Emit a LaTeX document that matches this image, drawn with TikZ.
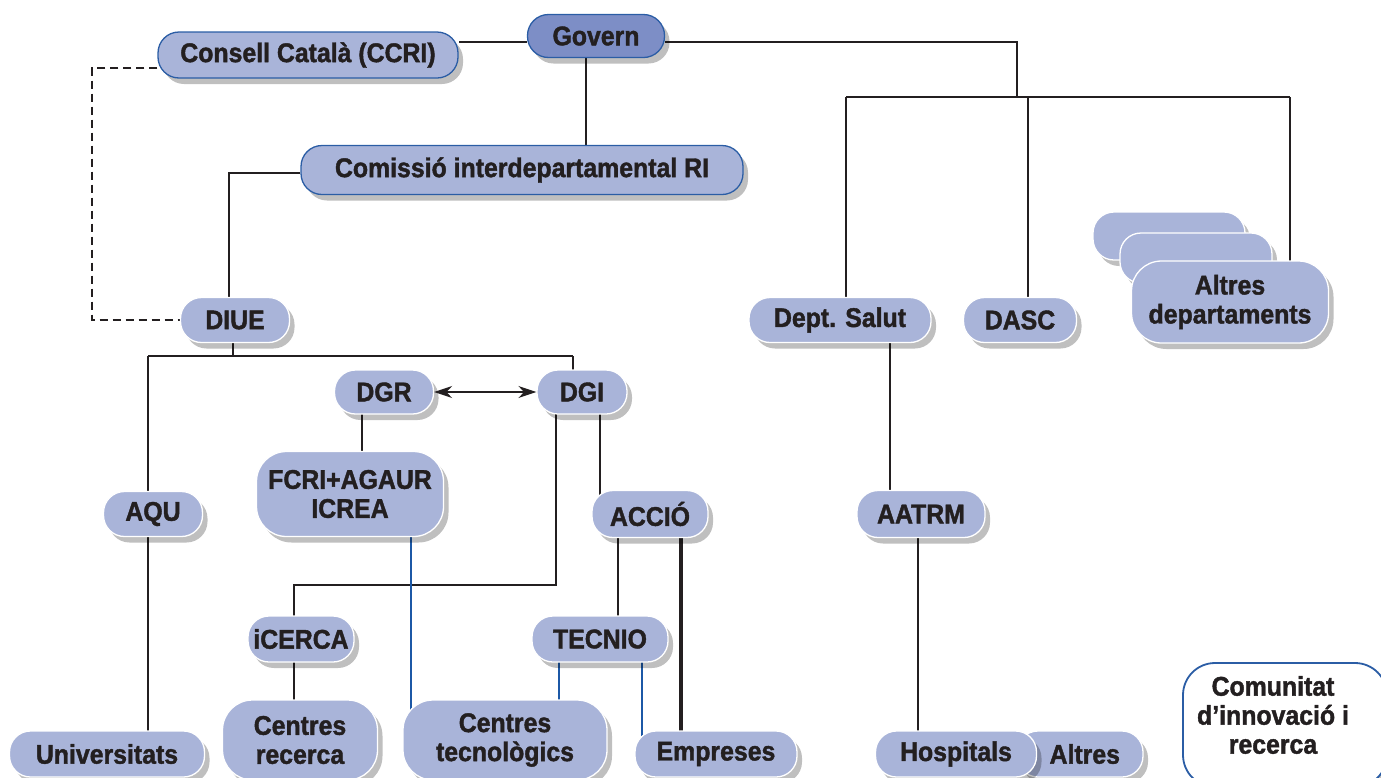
\documentclass[tikz,border=0pt]{standalone}
\usepackage{fontspec}
\setmainfont{Liberation Sans}[FakeStretch=0.92, BoldFeatures={FakeBold=1.5}]
\usetikzlibrary{shadows,backgrounds,arrows.meta}
\definecolor{boxfill}{HTML}{A9B4D9}
\definecolor{govfill}{HTML}{7D8EC6}
\definecolor{bordblue}{HTML}{2B5DA5}
\definecolor{linecol}{HTML}{231F20}
\definecolor{bluelin}{HTML}{1C58A6}
\definecolor{txtcol}{HTML}{231F20}
\tikzset{
  box/.style={draw=white, line width=1.3pt, fill=boxfill, rounded corners=21pt,
    minimum height=45pt, inner sep=0pt, align=center, text=txtcol,
    font=\bfseries\fontsize{27}{29}\selectfont,
    drop shadow={shadow xshift=5pt, shadow yshift=-6pt, opacity=0.25, fill=black}},
  topbox/.style={box, draw=bordblue},
  govbox/.style={topbox, fill=govfill},
  tallbox/.style={box, rounded corners=30pt, minimum height=80pt},
  combox/.style={box, fill=white, draw=bordblue, line width=1.8pt, rounded corners=32pt},
  comtext/.style={inner sep=0pt, align=center, text=txtcol, font=\bfseries\fontsize{27}{29}\selectfont},
  link/.style={draw=linecol, line width=2.6pt},
  thicklink/.style={draw=linecol, line width=3.4pt},
  bluelink/.style={draw=bluelin, line width=2.8pt},
  dashline/.style={draw=linecol, line width=2.6pt, dash pattern=on 8pt off 5pt},
  arrowline/.style={draw=linecol, line width=2pt, {Stealth[length=18pt,width=12pt]}-{Stealth[length=18pt,width=12pt]}}
}
\begin{document}
\begin{tikzpicture}[x=1pt,y=-1pt]
\useasboundingbox (0,0) rectangle (1381,777);
\clip (0,0) rectangle (1381,777);

% top level
\node[govbox, minimum width=137pt, minimum height=43pt] (govern) at (596,36) {Govern};
\node[topbox, minimum width=300pt, minimum height=46pt] (consell) at (308,55) {Consell Català (CCRI)};
\node[topbox, minimum width=442pt, minimum height=49pt] (comissio) at (522,170) {Comissió interdepartamental RI};

% departments
\node[box, minimum width=109pt] (diue) at (235,320) {DIUE};
\node[box, minimum width=182pt] (deptsalut) at (840,320) {Dept. Salut};
\node[box, minimum width=113pt] (dasc) at (1020,320) {DASC};
\node[box, minimum width=152pt, minimum height=48pt] (alt1) at (1169,236) {};
\node[box, minimum width=152pt, minimum height=50pt] (alt2) at (1196,258) {};
\node[box, minimum width=197pt, minimum height=82pt, rounded corners=30pt] (altres) at (1230,302) {Altres\\departaments};

% second level
\node[box, minimum width=99pt, minimum height=44pt] (dgr) at (384,392) {DGR};
\node[box, minimum width=90pt, minimum height=44pt] (dgi) at (582,392) {DGI};
\node[box, minimum width=99pt] (aqu) at (153,514) {AQU};
\node[tallbox, minimum width=187pt, minimum height=85pt] (fcri) at (350,494) {FCRI+AGAUR\\ICREA};
\node[box, minimum width=116pt, minimum height=47pt] (accio) at (650,514) {ACCIÓ};
\node[box, minimum width=128pt, minimum height=47pt] (aatrm) at (921,514) {AATRM};
\node[box, minimum width=106pt, minimum height=46pt] (icerca) at (301,639) {iCERCA};
\node[box, minimum width=136pt, minimum height=46pt] (tecnio) at (600,639) {TECNIO};

% bottom row
\node[box, minimum width=195pt, minimum height=46pt] (univ) at (107,754) {Universitats};
\node[tallbox, minimum width=155pt] (crecerca) at (300,740) {Centres\\recerca};
\node[tallbox, minimum width=204pt] (ctec) at (505,740) {Centres\\tecnològics};
\node[box, minimum width=162pt, minimum height=46pt] (empreses) at (716,754) {Empreses};
\node[box, minimum width=126pt, minimum height=46pt, text width=80pt, align=right] (altresb) at (1080,754) {Altres};
\node[box, minimum width=161pt, minimum height=46pt] (hospitals) at (956,754) {Hospitals};

% legend
\node[combox, minimum width=204pt, minimum height=124pt] (com) at (1285,725) {};
\node[comtext] (comt) at (1273,715) {Comunitat\\d’innovació i\\recerca};

% helper coordinates
\coordinate (gR) at (1017,97);
\coordinate (hL) at (846,97);
\coordinate (hD) at (1028,97);
\coordinate (hR) at (1290,97);
\coordinate (dashX) at (92,320);
\coordinate (barL) at (148,356);
\coordinate (barR) at (573,356);
\coordinate (barM) at (233,356);

\begin{scope}[on background layer]
\draw[link] ([yshift=-6pt]govern.west) -- ([yshift=-6pt]govern.west -| consell.east);
\draw[link] ([yshift=-6pt]govern.east) -| (gR);
\draw[link] (hL) -- (hR);
\draw[link] (hL) -- (hL |- deptsalut.center);
\draw[link] (hD) -- (hD |- dasc.center);
\draw[link] (hR) -- (hR |- altres.center);
\draw[link] ([xshift=-10pt]govern.south) -- ([xshift=-10pt]govern.south |- comissio.center);
\draw[link] ([yshift=-3pt]comissio.west) -| ([xshift=-6pt]diue.center);
\draw[dashline] ([yshift=-13pt]consell.west) -| (dashX) -- (diue.west);
\draw[link] (diue.center -| barM) -- (barM);
\draw[link] (barL) -- (barR);
\draw[link] (barL) -- (barL |- aqu.center);
\draw[link] (barR) -- (barR |- dgi.center);
\draw[link] ([xshift=-22pt]dgr.center) -- ([xshift=-22pt]fcri.center -| dgr.center);
\draw[link] ([xshift=-26pt]dgi.center) -- ([xshift=-26pt,yshift=-193pt]dgi.center) -| ([xshift=-7pt]icerca.center);
\draw[link] ([xshift=18pt]dgi.center) -- ([xshift=18pt]dgi.center |- accio.center);
\draw[link] ([xshift=-32pt]accio.center) -- ([xshift=-32pt]accio.center |- tecnio.center);
\draw[thicklink] ([xshift=31pt]accio.center) -- ([xshift=31pt]accio.center |- empreses.center);
\draw[link] ([xshift=-7pt]icerca.center) -- ([xshift=-7pt]icerca.center |- crecerca.center);
\draw[bluelink] ([xshift=61pt]fcri.center) -- ([xshift=61pt]fcri.center |- ctec.center);
\draw[bluelink] ([xshift=-41pt]tecnio.center) -- ([xshift=-41pt]tecnio.center |- ctec.center);
\draw[bluelink] ([xshift=42pt]tecnio.center) -- ([xshift=42pt]tecnio.center |- empreses.center);
\draw[link] ([xshift=-5pt]aqu.center) -- ([xshift=-5pt]aqu.center |- univ.center);
\draw[link] ([xshift=50pt]deptsalut.center) -- ([xshift=50pt]deptsalut.center |- aatrm.center);
\draw[link] ([xshift=-3pt]aatrm.center) -- ([xshift=-3pt]aatrm.center |- hospitals.center);
\end{scope}
\draw[arrowline] (dgr.east) -- (dgi.west);
\end{tikzpicture}
\end{document}
